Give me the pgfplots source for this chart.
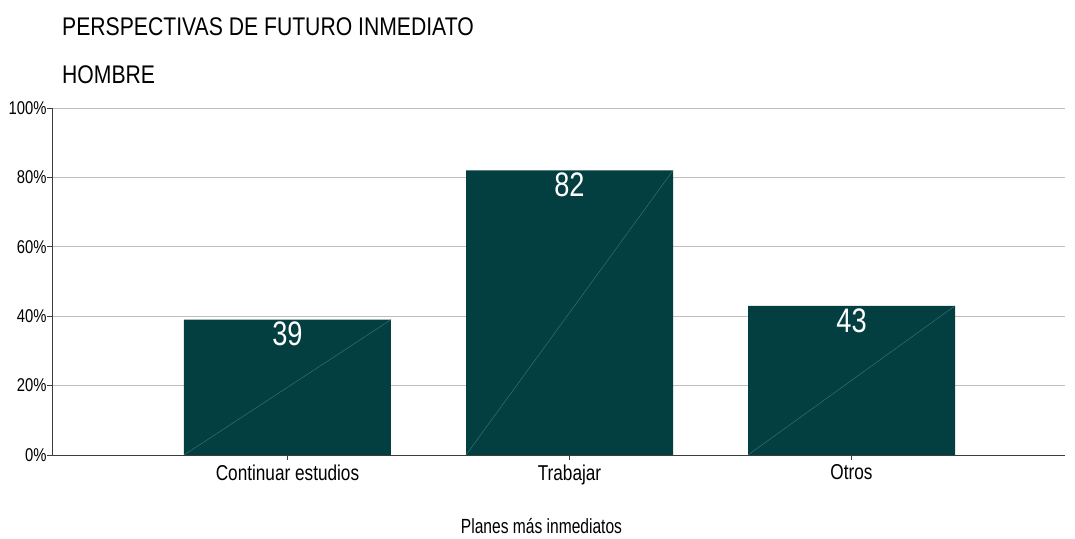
\documentclass[border=0pt]{standalone}
\usepackage{pgfplots}
\pgfplotsset{compat=1.18}
\usepackage{fontspec}
\setmainfont{Liberation Sans}[FakeStretch=0.8]
\newfontfamily\narrowerfont{Liberation Sans}[FakeStretch=0.76]
\newfontfamily\titlefont{Liberation Sans}[FakeStretch=0.83]
\definecolor{barteal}{RGB}{3,63,64}
\definecolor{diagteal}{RGB}{60,120,120}
\definecolor{gridgray}{RGB}{190,190,190}
\definecolor{axisgray}{RGB}{60,60,60}

\begin{document}
\begin{tikzpicture}
\path[use as bounding box] (0,0) rectangle (1075pt,538pt);
\node[anchor=base west, inner sep=0pt, font=\titlefont\fontsize{25.5}{28}\selectfont] at (62pt,502.5pt) {PERSPECTIVAS DE FUTURO INMEDIATO};
\node[anchor=base west, inner sep=0pt, font=\titlefont\fontsize{25.5}{28}\selectfont] at (62pt,454pt) {HOMBRE};
\node[anchor=base, inner sep=0pt, font=\narrowerfont\fontsize{20.5}{23}\selectfont] at (541.5pt,5pt) {Planes más inmediatos};
\begin{axis}[
  at={(52pt,83pt)}, anchor=south west,
  scale only axis, width=1013pt, height=347pt,
  xmin=-0.835, xmax=2.757, ymin=0, ymax=100,
  axis x line*=bottom, axis y line*=left,
  axis line style={axisgray, line width=0.8pt},
  xtick={0,1,2},
  xticklabels={Continuar estudios, Trabajar, Otros},
  ytick={0,20,40,60,80,100},
  yticklabel={\pgfmathprintnumber{\tick}\%},
  tick align=outside, major tick length=5pt,
  tick style={axisgray, line width=0.8pt},
  ymajorgrids, major grid style={gridgray, line width=0.8pt},
  x tick label style={font=\fontsize{21.5}{23}\selectfont, yshift=-1pt},
  y tick label style={font=\fontsize{18.5}{20}\selectfont, xshift=3pt},
  /pgf/number format/assume math mode=true,
  clip=false,
]
\addplot[ybar, bar width=0.734, fill=barteal, draw=none,
  nodes near coords, nodes near coords align={anchor=north},
  every node near coord/.append style={font=\fontsize{34}{36}\selectfont, text=white, yshift=1pt}]
  coordinates {(0,39) (1,82) (2,43)};
\addplot[diagteal, line width=0.4pt, no marks] coordinates {(-0.367,0) (0.367,39)};
\addplot[diagteal, line width=0.4pt, no marks] coordinates {(0.633,0) (1.367,82)};
\addplot[diagteal, line width=0.4pt, no marks] coordinates {(1.633,0) (2.367,43)};
\end{axis}
\end{tikzpicture}
\end{document}
